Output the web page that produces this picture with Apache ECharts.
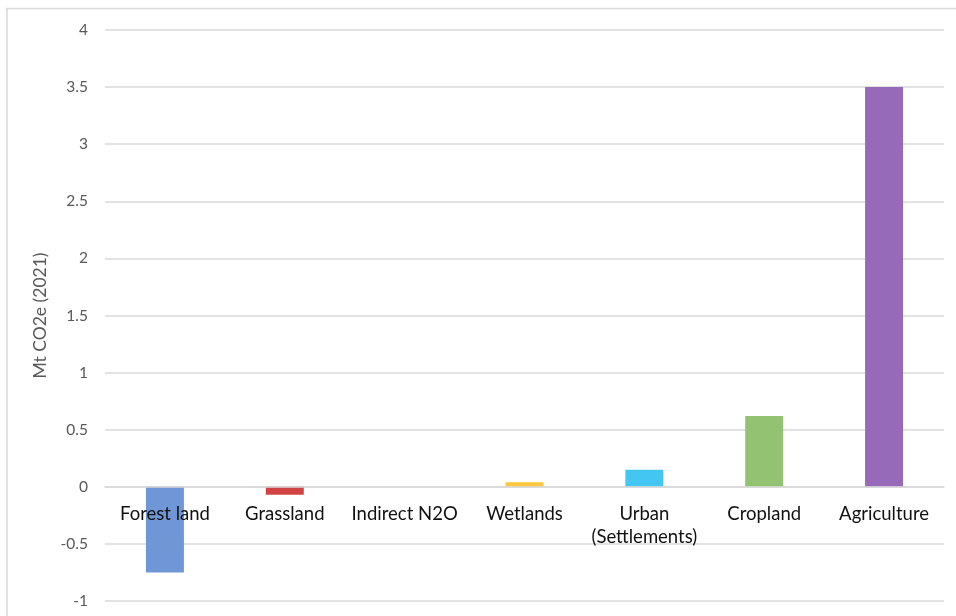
<!DOCTYPE html>
<html>
<head>
<meta charset="utf-8">
<style>
  html, body { margin: 0; padding: 0; background: #fff; }
  #chart { width: 956px; height: 616px; }
</style>
<script src="https://cdn.jsdelivr.net/npm/echarts@6/dist/echarts.min.js"></script>
</head>
<body>
<div id="chart"></div>
<script>
// Land-use categories and their 2021 emissions (Mt CO2e)
const categories = ['Forest land', 'Grassland', 'Indirect N2O', 'Wetlands', 'Urban\n(Settlements)', 'Cropland', 'Agriculture'];
const emissions = [-0.75, -0.07, 0, 0.04, 0.15, 0.62, 3.5];
const barColors = ['#7097D5', '#D04343', '#A5A5A5', '#FFC93F', '#44C6F2', '#93C273', '#9669B9'];
const yTicks = { min: -1, max: 4, step: 0.5 };

const W = 956, H = 616;
const gridBox = { left: 105, right: 12, top: 30, bottom: 15 };
// Lift the category axis so that it sits on the zero line
const plotH = H - gridBox.top - gridBox.bottom;
const zeroLift = plotH * (0 - yTicks.min) / (yTicks.max - yTicks.min);

const chart = echarts.init(document.getElementById('chart'));
chart.setOption({
  animation: false,
  backgroundColor: '#fff',
  graphic: [
    { type: 'line', shape: { x1: 6, y1: 8.5, x2: W, y2: 8.5 }, style: { stroke: '#d9d9d9', lineWidth: 1.5 } },
    { type: 'line', shape: { x1: 7, y1: 8, x2: 7, y2: H }, style: { stroke: '#d9d9d9', lineWidth: 1.5 } }
  ],
  grid: Object.assign({ containLabel: false, outerBoundsMode: 'none' }, gridBox),
  xAxis: {
    type: 'category',
    data: categories,
    position: 'bottom',
    offset: -zeroLift,
    z: 5,
    axisLine: { show: true, onZero: false, lineStyle: { color: '#d9d9d9', width: 1.5 } },
    axisTick: { show: false },
    axisLabel: {
      color: '#111',
      fontFamily: 'Lato',
      fontSize: 18.5,
      margin: 16,
      lineHeight: 23,
      interval: 0
    }
  },
  yAxis: {
    type: 'value',
    min: yTicks.min,
    max: yTicks.max,
    interval: yTicks.step,
    name: 'Mt CO2e (2021)',
    nameLocation: 'middle',
    nameGap: 53,
    nameTextStyle: { color: '#595959', fontFamily: 'Lato', fontSize: 17.5 },
    axisLine: { show: false },
    axisTick: { show: false },
    splitLine: { lineStyle: { color: '#d9d9d9', width: 1.5 } },
    axisLabel: { color: '#595959', fontFamily: 'Lato', fontSize: 15.5, margin: 17 }
  },
  series: [{
    type: 'bar',
    barWidth: 38,
    data: emissions.map((v, i) => ({ value: v, itemStyle: { color: barColors[i] } }))
  }]
});
</script>
</body>
</html>
